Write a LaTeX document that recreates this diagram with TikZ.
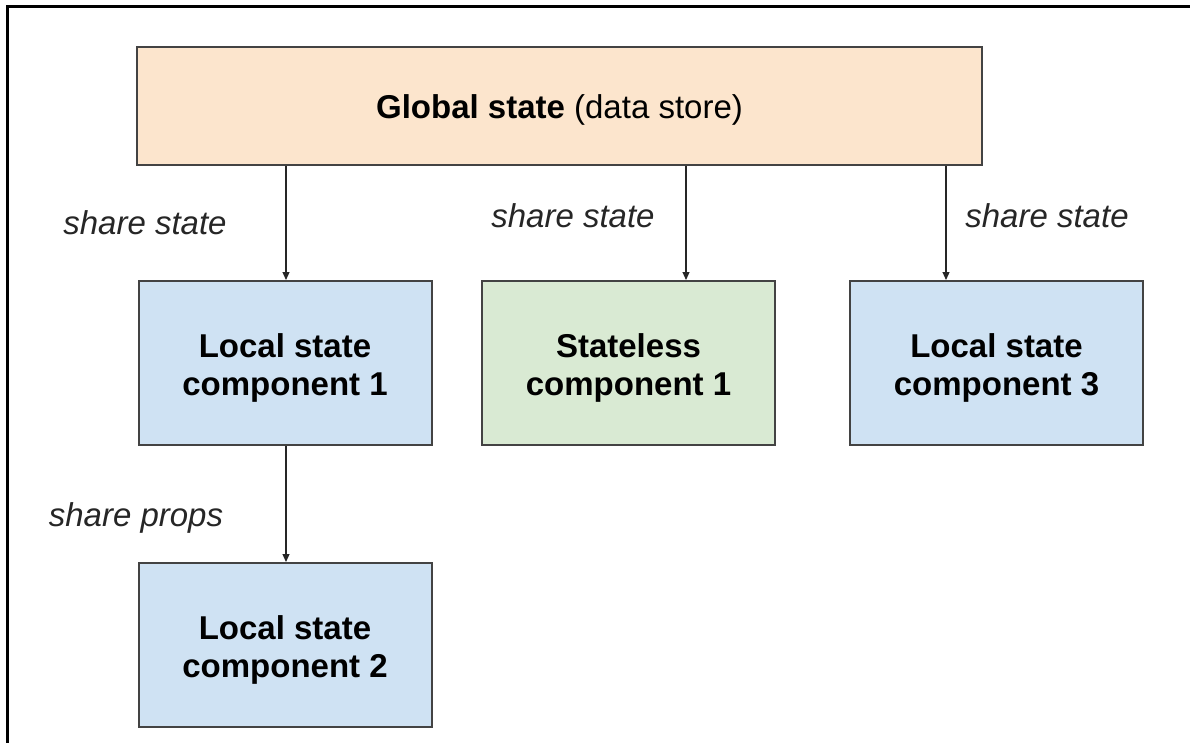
\documentclass[tikz,border=0pt]{standalone}
\usepackage{fontspec}
\setmainfont{Liberation Sans}
\usetikzlibrary{arrows.meta,calc}

\definecolor{globalfill}{HTML}{FCE5CD}
\definecolor{localfill}{HTML}{CFE2F3}
\definecolor{statelessfill}{HTML}{D9EAD3}
\definecolor{edge}{HTML}{434343}

\tikzset{
  box/.style={draw=edge, line width=2pt, minimum width=293pt, minimum height=164pt,
    inner sep=0pt},
  boxtext/.style={inner sep=0pt, align=center, font=\fontsize{33}{38}\selectfont\bfseries},
  conn/.style={draw=black!85, line width=1.1pt, -{Triangle[length=8pt,width=7pt]}},
  lbl/.style={inner sep=0pt, font=\fontsize{33}{38}\selectfont\itshape, text=black!85},
}

\begin{document}
\begin{tikzpicture}[x=1pt,y=-1pt]
  \useasboundingbox (0,0) rectangle (1190,743);
  % outer frame: top and left edges only
  \draw[line width=3pt, black] (7.5,743) -- (7.5,7) -- (1190,7);

  % data store
  \node[box, fill=globalfill, minimum width=845pt, minimum height=118pt] (g) at (559.5,106) {};
  \node[boxtext, font=\fontsize{33}{38}\selectfont] (gt) at ([yshift=-4pt]g.center)
        {\textbf{Global state} (data store)};

  % components
  \node[box, fill=localfill] (l1) at (285,363) {};
  \node[box, fill=statelessfill] (sl) at (628.5,363) {};
  \node[box, fill=localfill] (l3) at (996.5,363) {};
  \node[box, fill=localfill] (l2) at (285,645) {};

  \node[boxtext] (l1t) at ([yshift=-5pt]l1.center) {Local state\\component 1};
  \node[boxtext] (slt) at ([yshift=-5pt]sl.center) {Stateless\\component 1};
  \node[boxtext] (l3t) at ([yshift=-5pt]l3.center) {Local state\\component 3};
  \node[boxtext] (l2t) at ([yshift=-5pt]l2.center) {Local state\\component 2};

  % connector columns
  \coordinate (c1) at (286,0);
  \coordinate (c2) at (686,0);
  \coordinate (c3) at (946,0);

  \draw[conn] (g.south -| c1) -- (l1.north -| c1);
  \draw[conn] (g.south -| c2) -- (sl.north -| c2);
  \draw[conn] (g.south -| c3) -- (l3.north -| c3);
  \draw[conn] (l1.south -| c1) -- (l2.north -| c1);

  % connector labels
  \node[lbl] (t1) at (145,223) {share state};
  \node[lbl] (t2) at (573,216) {share state};
  \node[lbl] (t3) at (1047,216) {share state};
  \node[lbl] (t4) at (136,518) {share props};
\end{tikzpicture}
\end{document}
